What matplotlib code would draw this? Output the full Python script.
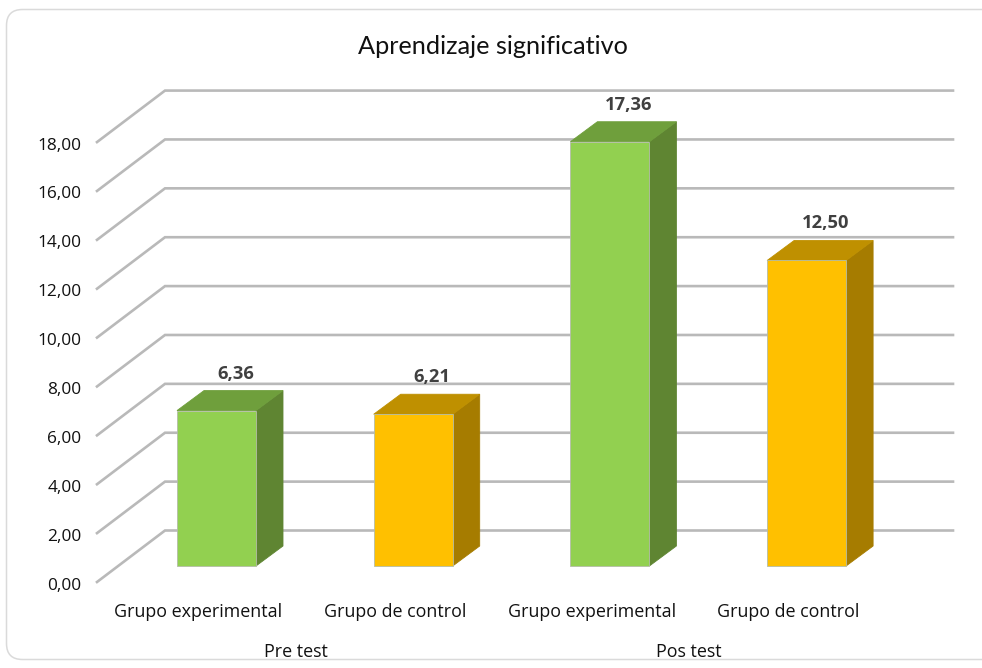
import matplotlib
matplotlib.use("Agg")
import matplotlib.pyplot as plt
from matplotlib.patches import Polygon, FancyBboxPatch
from matplotlib.transforms import Affine2D

plt.rcParams['font.family'] = ['Open Sans', 'DejaVu Sans']

# datos
grupos = ["Grupo experimental", "Grupo de control", "Grupo experimental", "Grupo de control"]
fases = ["Pre test", "Pos test"]
valores = [6.36, 6.21, 17.36, 12.50]
marcas_y = [0, 2, 4, 6, 8, 10, 12, 14, 16, 18]

verde = ["#92D050", "#6F9F3C", "#5F8532"]
naranja = ["#FFC000", "#BF9000", "#A67C00"]
colores = [verde, naranja, verde, naranja]

W, H = 982, 668
x0_px, paso_px = 216.5, 196.7
y0_px, esc_px = 566.0, 24.44

fig = plt.figure(figsize=(W / 100, H / 100), dpi=100)
ax = fig.add_axes([0, 0, 1, 1])
ax.set_xlim((0 - x0_px) / paso_px, (W - x0_px) / paso_px)
ax.set_ylim((y0_px - H) / esc_px, y0_px / esc_px)
ax.axis("off")


def px_x(p):
    return (p - x0_px) / paso_px


def px_dy(p):
    return p / esc_px


# marco
marco = FancyBboxPatch((6.5, 9.5), 1000, 650, boxstyle="round,pad=0,rounding_size=16",
                       fc="white", ec="#DADADA", lw=1.1, zorder=0)
marco.set_transform(Affine2D().scale(1, -1).translate(0, H))
ax.add_patch(marco)

# rejilla
frente_x, fondo_x, fin_x = px_x(97), px_x(165), px_x(953)
frente_dy, fondo_dy = px_dy(-16), px_dy(35.5)
for m in marcas_y:
    ax.plot([frente_x, fondo_x, fin_x], [m + frente_dy, m + fondo_dy, m + fondo_dy],
            color="#B9B9B9", lw=1.9, solid_joinstyle="miter", zorder=1)
    ax.text(px_x(81.5), m + px_dy(-17.5), f"{m:.2f}".replace(".", ","), ha="right", va="center_baseline",
            fontsize=12.4, color="#111111")

# barras
ancho = 79 / paso_px
dx, dy = 27 / paso_px, px_dy(20)
borde = "#B4BDA8"
for i, v in enumerate(valores):
    c = colores[i]
    iz, de = i - ancho / 2, i + ancho / 2
    ax.add_patch(Polygon([(de, 0), (de + dx, dy), (de + dx, v + dy), (de, v)],
                         fc=c[2], ec=c[2], lw=0.6, zorder=3))
    ax.add_patch(Polygon([(iz, v), (iz + dx, v + dy), (de + dx, v + dy), (de, v)],
                         fc=c[1], ec=c[1], lw=0.6, zorder=3))
    ax.bar(i, v, width=ancho, color=c[0], edgecolor=borde, linewidth=0.6, zorder=4)
    ax.text(i + 19 / paso_px, v + px_dy(39), f"{v:.2f}".replace(".", ","), ha="center", va="center_baseline",
            fontsize=13.2, fontweight="bold", color="#404040", zorder=5)
    ax.text(i - 18 / paso_px, px_dy(-44), grupos[i], ha="center", va="center_baseline",
            fontsize=12.9, color="#111111")

# fases
for j, f in enumerate(fases):
    ax.text(px_x([295.5, 689][j]), px_dy(-84), f, ha="center", va="center_baseline",
            fontsize=12.9, color="#111111")

ax.text(px_x(492.5), px_dy(566 - 54.3), "Aprendizaje significativo", ha="center", va="baseline",
        fontsize=18.2, color="#111111", family=['Lato', 'DejaVu Sans'])

fig.savefig("out.png", dpi=100)
